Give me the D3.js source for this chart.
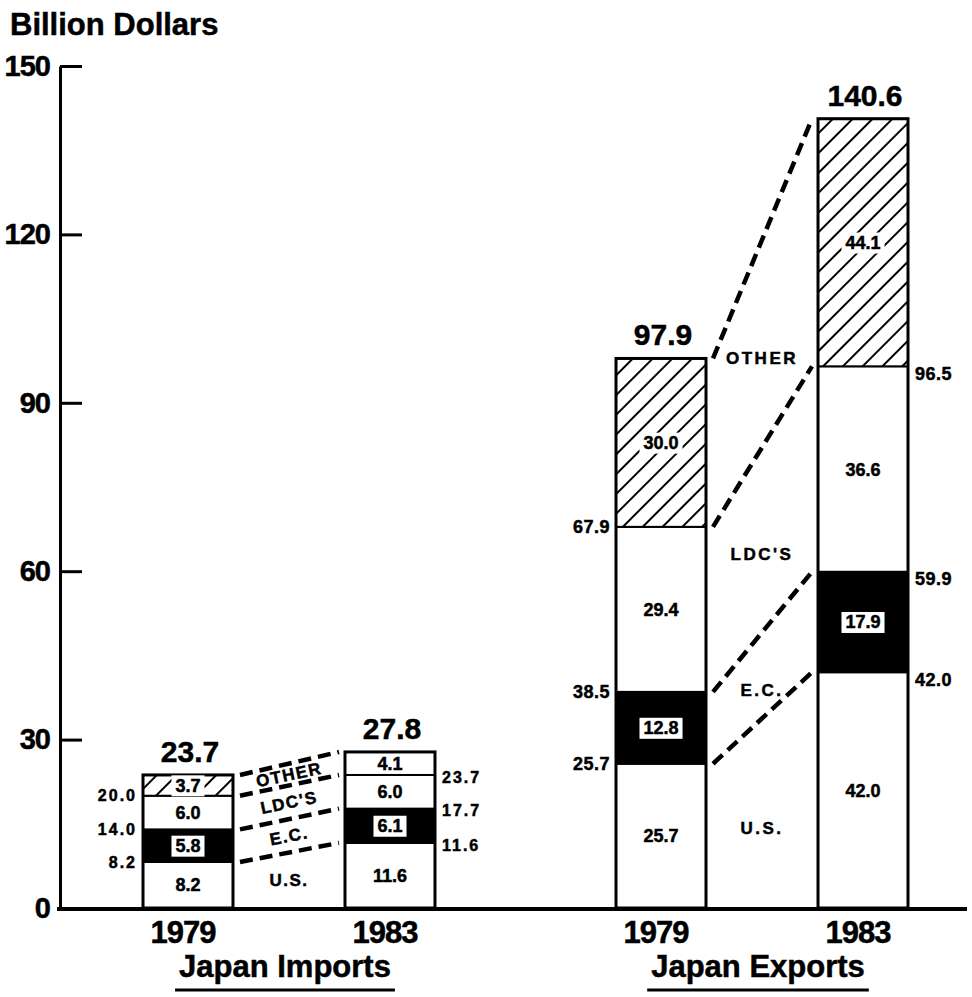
<!DOCTYPE html>
<html><head><meta charset="utf-8">
<script src="https://cdn.jsdelivr.net/npm/d3@7"></script>
<style>
body{margin:0;background:#fff;}
svg text{font-family:"Liberation Sans",Arial,Helvetica,sans-serif;font-weight:bold;fill:#000;stroke:#000;stroke-width:0.5px;}
</style></head><body>
<svg id="chart" width="972" height="997"></svg>
<script>
// ---- data ----
const groups = ["Japan Imports", "Japan Exports"];
const years = ["1979", "1983"];
const regions = ["U.S.", "E.C.", "LDC'S", "OTHER"];
const imports1979 = [8.2, 5.8, 6.0, 3.7];
const imports1983 = [11.6, 6.1, 6.0, 4.1];
const exports1979 = [25.7, 12.8, 29.4, 30.0];
const exports1983 = [42.0, 17.9, 36.6, 44.1];
const yTicks = [0, 30, 60, 90, 120, 150];
const yTitle = "Billion Dollars";

const bars = [
  {group: groups[0], year: years[0], values: imports1979},
  {group: groups[0], year: years[1], values: imports1983},
  {group: groups[1], year: years[0], values: exports1979},
  {group: groups[1], year: years[1], values: exports1983}
];
bars.forEach(b => { b.cum = d3.cumsum(b.values); b.total = b.cum[b.cum.length - 1]; });

const fmt = d3.format(".1f");
const svg = d3.select("#chart");

// ---- scales ----
const y = d3.scaleLinear().domain([0, 150]).range([908, 66]);
const xGroup = d3.scaleBand().domain(groups).range([143, 908]).paddingInner(0.3827).paddingOuter(0);
const xYear = d3.scaleBand().domain(years).range([0, xGroup.bandwidth()]).paddingInner(0.5545).paddingOuter(0);
const barX = b => xGroup(b.group) + xYear(b.year);
const bw = xYear.bandwidth();

// ---- defs ----
const defs = svg.append("defs");
const pat = defs.append("pattern").attr("id", "hatch").attr("patternUnits", "userSpaceOnUse")
  .attr("width", 14).attr("height", 14).attr("patternTransform", "rotate(45)");
pat.append("rect").attr("width", 14).attr("height", 14).attr("fill", "#fff");
pat.append("line").attr("x1", 1).attr("y1", 0).attr("x2", 1).attr("y2", 14)
  .attr("stroke", "#000").attr("stroke-width", 2);

// ---- y axis ----
svg.append("text").attr("x", 10).attr("y", 35).attr("font-size", 31).text(yTitle);
const yAxis = svg.append("g").attr("transform", "translate(60,0)")
  .call(d3.axisLeft(y).tickValues(yTicks).tickFormat(d3.format("d"))
    .tickSizeInner(-22).tickSizeOuter(0).tickPadding(10));
yAxis.select(".domain").attr("stroke", "#000").attr("stroke-width", 3);
yAxis.selectAll(".tick line").attr("stroke", "#000").attr("stroke-width", 3);
yAxis.selectAll(".tick text").attr("font-size", 29).attr("font-family", null).attr("fill", "#000")
  .style("letter-spacing", "-1px");
yAxis.attr("font-family", null);

// ---- bars ----
const plainOther = "Japan Imports 1983"; // OTHER segment drawn without hatching in the original
const barG = svg.append("g");
bars.forEach(b => {
  const x0 = barX(b);
  const g = barG.append("g");
  const segs = b.values.map((v, i) => ({v, i, lo: i ? b.cum[i - 1] : 0, hi: b.cum[i]}));
  g.selectAll("rect.seg").data(segs).join("rect").attr("class", "seg")
    .attr("x", x0).attr("width", bw)
    .attr("y", d => y(d.hi)).attr("height", d => y(d.lo) - y(d.hi))
    .attr("fill", d => d.i === 1 ? "#000" : (d.i === 3 && (b.group + " " + b.year) !== plainOther) ? "url(#hatch)" : "#fff")
    .attr("stroke", "#000").attr("stroke-width", 2);
  g.append("rect").attr("x", x0).attr("y", y(b.total)).attr("width", bw)
    .attr("height", y(0) - y(b.total)).attr("fill", "none").attr("stroke", "#000").attr("stroke-width", 3);
  // segment value labels
  segs.forEach(d => {
    const cx = x0 + bw / 2, cy = (y(d.lo) + y(d.hi)) / 2;
    const t = g.append("text").attr("x", cx).attr("y", cy).attr("dy", "0.36em")
      .attr("text-anchor", "middle").attr("font-size", 18).text(fmt(d.v));
    const needsBox = d.i === 1 || (d.i === 3 && (b.group + " " + b.year) !== plainOther);
    if (needsBox) {
      const bb = t.node().getBBox();
      g.insert("rect", () => t.node())
        .attr("x", bb.x - 4).attr("y", bb.y - 0.5).attr("width", bb.width + 8).attr("height", bb.height + 1)
        .attr("fill", "#fff");
    }
  });
  // total
  g.append("text").attr("x", x0 + bw / 2 + 2).attr("y", y(b.total) - 13)
    .attr("text-anchor", "middle").attr("font-size", 30).text(fmt(b.total));
  // cumulative labels
  const left = b.year === years[0];
  const isImp = b.group === groups[0];
  b.cum.slice(0, 3).forEach(c => {
    g.append("text")
      .attr("x", left ? x0 - 6 : x0 + bw + 7)
      .attr("y", y(c) + (left ? 0 : (isImp ? 2 : 7)))
      .attr("dy", "0.36em")
      .attr("text-anchor", left ? "end" : "start")
      .attr("font-size", isImp ? 16 : 18)
      .style("letter-spacing", isImp ? "2px" : "0.5px")
      .text(fmt(c));
  });
  // year label
  svg.append("text").attr("x", x0 + bw / 2 - 5).attr("y", 943)
    .attr("text-anchor", "middle").attr("font-size", 31).style("letter-spacing", "-1px").text(b.year);
});

// ---- connectors and region labels ----
groups.forEach((grp, gi) => {
  const b0 = bars.find(b => b.group === grp && b.year === years[0]);
  const b1 = bars.find(b => b.group === grp && b.year === years[1]);
  const xa = barX(b0) + bw + 7, xb = barX(b1) - 6;
  const g = svg.append("g");
  b0.cum.forEach((c, k) => {
    g.append("line").attr("x1", xa).attr("y1", y(c)).attr("x2", xb).attr("y2", y(b1.cum[k]))
      .attr("stroke", "#000").attr("stroke-width", 4.5).attr("stroke-dasharray", "13,7");
  });
  const cx = (barX(b0) + bw + barX(b1)) / 2;
  regions.forEach((r, i) => {
    const lo = i ? (b0.cum[i - 1] + b1.cum[i - 1]) / 2 : 0;
    const hi = (b0.cum[i] + b1.cum[i]) / 2;
    const cy = y((lo + hi) / 2);
    let ang = 0;
    if (gi === 0 && i > 0) {
      ang = Math.atan2(y(b1.cum[i - 1]) - y(b0.cum[i - 1]), xb - xa) * 180 / Math.PI;
    }
    g.append("text")
      .attr("transform", `translate(${cx},${cy + (gi === 1 ? 15 : 0)}) rotate(${ang})`)
      .attr("dy", "0.36em").attr("text-anchor", "middle")
      .attr("font-size", 17).style("letter-spacing", gi === 0 ? "1.5px" : "2.5px")
      .text(r);
  });
});

// ---- x axis line ----
svg.append("line").attr("x1", 57).attr("x2", 967).attr("y1", y(0) + 1).attr("y2", y(0) + 1)
  .attr("stroke", "#000").attr("stroke-width", 4);

// ---- group labels ----
groups.forEach(grp => {
  const cx = xGroup(grp) + xGroup.bandwidth() / 2 - 4;
  const t = svg.append("text").attr("x", cx).attr("y", 977).attr("text-anchor", "middle")
    .attr("font-size", 31).text(grp);
  const w = t.node().getComputedTextLength();
  svg.append("line").attr("x1", cx - w / 2 - 4).attr("x2", cx + w / 2 + 4)
    .attr("y1", 990).attr("y2", 990).attr("stroke", "#000").attr("stroke-width", 3);
});
</script>
</body></html>
